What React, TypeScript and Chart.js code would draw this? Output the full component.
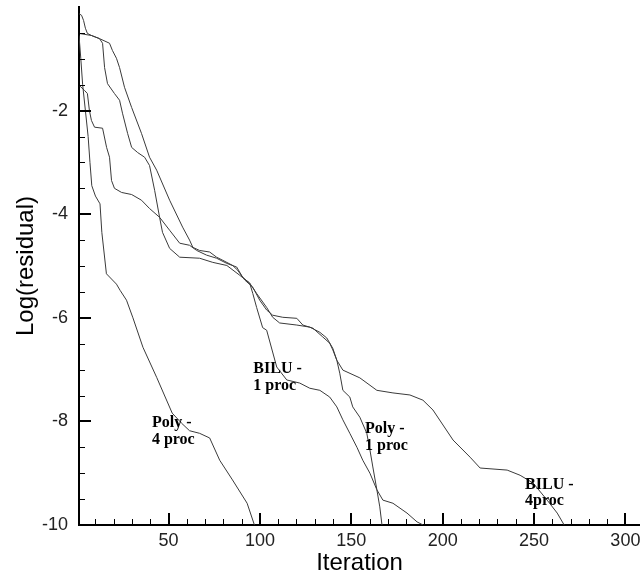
import React, { useEffect, useRef } from "react";
import { Chart, registerables } from "chart.js";

Chart.register(...registerables);

// ---------- data ----------
const polyFourIter = [1, 2, 3, 4.5, 6, 7, 8, 10, 12.5, 13.5, 16, 21.5, 23.5, 27, 30.5, 36, 43.5, 52, 57, 61.5, 67, 72.5, 78, 85, 93, 97];
const polyFourLog = [-0.55, -1.0, -1.5, -2.0, -2.5, -3.0, -3.45, -3.65, -3.8, -4.35, -5.15, -5.35, -5.47, -5.66, -6.0, -6.57, -7.15, -7.84, -8.03, -8.18, -8.23, -8.32, -8.75, -9.13, -9.58, -10.0];

const biluFourIter = [1, 4, 5.6, 6.7, 7.8, 9.5, 13.9, 16.1, 17.7, 18.8, 20.4, 24.3, 29.8, 35.2, 39.6, 45.1, 50.6, 56.1, 61.5, 65.4, 70.8, 76.3, 81.9, 87.3, 90.6, 94.4, 98.2, 103.7, 107, 110.8, 120.2, 127.3, 132.8, 136.6, 139.9, 142.1, 145.4, 154.7, 164, 172.8, 182.1, 189.2, 194.7, 200.2, 205.7, 215, 220.5, 235.3, 242.4, 249.5, 257.2, 262.7, 266.5];
const biluFourLog = [-1.51, -1.61, -1.67, -2.0, -2.19, -2.32, -2.34, -2.71, -2.9, -3.35, -3.5, -3.58, -3.62, -3.73, -3.89, -4.06, -4.31, -4.56, -4.6, -4.7, -4.79, -4.85, -4.95, -5.02, -5.22, -5.33, -5.53, -5.8, -5.99, -6.1, -6.14, -6.18, -6.28, -6.39, -6.59, -6.82, -7.01, -7.16, -7.4, -7.45, -7.49, -7.59, -7.78, -8.07, -8.36, -8.69, -8.9, -8.94, -9.04, -9.19, -9.52, -9.77, -10.0];

const polyOneIter = [1, 7.8, 12.2, 17.7, 19.3, 21.5, 23.2, 25.9, 29.8, 35.2, 39.6, 43.5, 50.6, 57.7, 61.5, 63.3, 67, 72.5, 76.3, 79.7, 85.1, 87.8, 91.7, 96.1, 99.9, 103.7, 107, 112.5, 120.2, 123.5, 129, 134.4, 138.2, 139.9, 142.1, 143.7, 145.4, 149.2, 150.8, 154.7, 158.5, 160.2, 161.8, 164, 165.6, 166.8];
const polyOneLog = [-0.51, -0.55, -0.61, -0.7, -0.84, -0.99, -1.17, -1.55, -1.94, -2.44, -2.9, -3.15, -3.73, -4.25, -4.5, -4.64, -4.7, -4.73, -4.83, -4.89, -4.99, -5.08, -5.27, -5.41, -5.66, -5.85, -5.95, -5.99, -6.01, -6.14, -6.2, -6.37, -6.49, -6.62, -6.82, -7.07, -7.4, -7.53, -7.72, -7.92, -8.23, -8.55, -8.88, -9.32, -9.65, -10.0];

const biluOneIter = [1, 2.4, 3.5, 4.5, 5.6, 7.8, 12.2, 13.9, 15, 16.6, 20.4, 23.2, 24.8, 27.6, 29.8, 33.1, 36.9, 39.6, 42.4, 45.1, 46.7, 50.6, 56.1, 67, 74.2, 81.9, 89, 94.4, 96.1, 98.2, 101.5, 103.7, 109.2, 114.7, 121.8, 127.3, 132.8, 138.2, 142.1, 145.4, 149.2, 153.1, 156.3, 160.2, 164, 167.3, 172.8, 180.5, 186, 189.3];
const biluOneLog = [-0.13, -0.16, -0.26, -0.41, -0.51, -0.55, -0.61, -0.7, -1.17, -1.48, -1.67, -1.8, -2.05, -2.44, -2.71, -2.81, -2.9, -3.06, -3.54, -4.06, -4.35, -4.66, -4.83, -4.85, -4.93, -4.99, -5.18, -5.33, -5.53, -5.8, -6.19, -6.24, -6.95, -7.2, -7.26, -7.36, -7.4, -7.53, -7.72, -7.97, -8.23, -8.5, -8.75, -9.0, -9.32, -9.52, -9.58, -9.77, -9.94, -10.0];

const xTickValues = [50, 100, 150, 200, 250, 300];
const xMinorTickValues = [10, 20, 30, 40, 60, 70, 80, 90, 110, 120, 130, 140, 160, 170, 180, 190, 210, 220, 230, 240, 260, 270, 280, 290];
const yTickValues = [-10, -8, -6, -4, -2];
const yMinorTickValues = [-9.5, -9, -8.5, -7.5, -7, -6.5, -5.5, -5, -4.5, -3.5, -3, -2.5, -1.5, -1, -0.5];

const annotationText = [["Poly -", "4 proc"], ["BILU -", "1 proc"], ["Poly -", "1 proc"], ["BILU -", "4proc"]];
const annotationIter = [40.9, 96.4, 157.5, 245.1];
const annotationLog = [-8.11, -7.07, -8.23, -9.3];

const xMin = 1;
const xMax = 308;
const yMin = -10;
const yMax = 0;

const zip = (xs: number[], ys: number[]) => xs.map((x, i) => ({ x, y: ys[i] }));

const innerTicksPlugin = {
  id: "innerTicks",
  afterDatasetsDraw(chart: any) {
    const { ctx, chartArea, scales } = chart;
    const xs = scales.x;
    const ys = scales.y;
    ctx.save();
    ctx.strokeStyle = "#000";
    const drawX = (v: number, len: number, w: number) => {
      const px = Math.round(xs.getPixelForValue(v)) + (w % 2 ? 0.5 : 0);
      ctx.lineWidth = w;
      ctx.beginPath();
      ctx.moveTo(px, chartArea.bottom);
      ctx.lineTo(px, chartArea.bottom - len);
      ctx.stroke();
    };
    const drawY = (v: number, len: number, w: number) => {
      const py = Math.round(ys.getPixelForValue(v)) + (w % 2 ? 0.5 : 0);
      ctx.lineWidth = w;
      ctx.beginPath();
      ctx.moveTo(chartArea.left, py);
      ctx.lineTo(chartArea.left + len, py);
      ctx.stroke();
    };
    xMinorTickValues.forEach((v) => drawX(v, 6, 1));
    xTickValues.forEach((v) => drawX(v, 12, 2));
    yMinorTickValues.forEach((v) => drawY(v, 6, 1));
    yTickValues.forEach((v) => drawY(v, 12, 2));

    ctx.fillStyle = "#000";
    ctx.font = "bold 16px 'Liberation Serif', 'Times New Roman', serif";
    ctx.textAlign = "left";
    ctx.textBaseline = "alphabetic";
    annotationText.forEach((lines, i) => {
      const px = xs.getPixelForValue(annotationIter[i]);
      const py = ys.getPixelForValue(annotationLog[i]);
      lines.forEach((t, j) => ctx.fillText(t, px, py + j * 16.5));
    });
    ctx.restore();
  },
};

export default function App() {
  const canvasRef = useRef<HTMLCanvasElement | null>(null);

  useEffect(() => {
    if (!canvasRef.current) return;
    const lineStyle = {
      borderColor: "#3a3a3a",
      borderWidth: 1,
      pointRadius: 0,
      tension: 0,
      fill: false,
    };
    const chart = new Chart(canvasRef.current, {
      type: "line",
      data: {
        datasets: [
          { label: "Poly - 4 proc", data: zip(polyFourIter, polyFourLog), ...lineStyle },
          { label: "BILU - 4 proc", data: zip(biluFourIter, biluFourLog), ...lineStyle },
          { label: "Poly - 1 proc", data: zip(polyOneIter, polyOneLog), ...lineStyle },
          { label: "BILU - 1 proc", data: zip(biluOneIter, biluOneLog), ...lineStyle },
        ],
      },
      options: {
        animation: false,
        responsive: false,
        devicePixelRatio: 1,
        layout: { padding: { top: 7, right: 0, bottom: 0, left: 0 } },
        plugins: { legend: { display: false }, tooltip: { enabled: false } },
        scales: {
          x: {
            type: "linear",
            min: xMin,
            max: xMax,
            grid: { display: false, drawTicks: false },
            border: { display: true, color: "#000", width: 2 },
            afterBuildTicks: (scale: any) => {
              scale.ticks = xTickValues.map((value) => ({ value }));
            },
            afterFit: (scale: any) => {
              scale.height = 50;
              scale.paddingLeft = 0;
              scale.paddingRight = 0;
            },
            ticks: {
              autoSkip: false,
              maxRotation: 0,
              padding: 5,
              color: "#222",
              font: { family: "'Liberation Sans', Arial, sans-serif", size: 18 },
            },
            title: {
              display: true,
              text: "Iteration",
              color: "#000",
              padding: { top: 0, bottom: 0 },
              font: { family: "'Liberation Sans', Arial, sans-serif", size: 24, lineHeight: 1 },
            },
          },
          y: {
            type: "linear",
            min: yMin,
            max: yMax,
            grid: { display: false, drawTicks: false },
            border: { display: true, color: "#000", width: 2 },
            afterBuildTicks: (scale: any) => {
              scale.ticks = yTickValues.map((value) => ({ value }));
            },
            afterFit: (scale: any) => {
              scale.width = 79;
              scale.paddingTop = 0;
              scale.paddingBottom = 0;
            },
            ticks: {
              autoSkip: false,
              padding: 11,
              color: "#222",
              font: { family: "'Liberation Sans', Arial, sans-serif", size: 18 },
            },
            title: {
              display: true,
              text: "Log(residual)",
              color: "#000",
              padding: { top: 14, bottom: 0 },
              font: { family: "'Liberation Sans', Arial, sans-serif", size: 24, lineHeight: 1 },
            },
          },
        },
      },
      plugins: [innerTicksPlugin],
    });
    return () => chart.destroy();
  }, []);

  return (
    <div style={{ position: "absolute", left: 0, top: 0, width: 640, height: 575, background: "#fff" }}>
      <canvas ref={canvasRef} width={640} height={575} style={{ display: "block", width: 640, height: 575 }} />
    </div>
  );
}
